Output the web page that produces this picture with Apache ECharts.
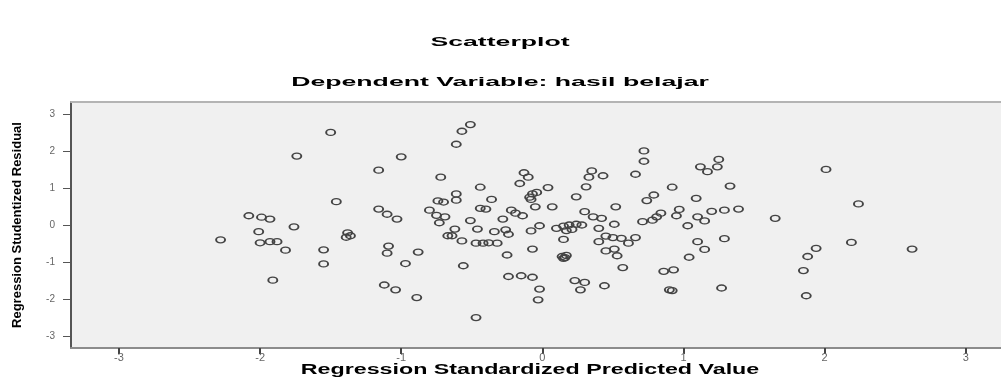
<!DOCTYPE html>
<html>
<head>
<meta charset="utf-8">
<script src="https://cdn.jsdelivr.net/npm/echarts@6/dist/echarts.min.js"></script>
<style>
html,body{margin:0;padding:0;background:#fff;}
#chart{width:1001px;height:387px;}
</style>
</head>
<body>
<div id="chart"></div>
<script>
// Regression Standardized Predicted Value (x) and Studentized Residual (y)
const predicted = [
 -2.28,-2.08,-1.99,-1.93,-1.76,-2.01,-2.00,-1.93,-1.88,-1.82,
 -1.91,-1.74,-1.50,-1.46,-1.38,-1.39,-1.36,-1.55,-1.55,-1.00,
 -1.16,-1.16,-1.10,-1.03,-1.09,-1.10,-0.97,-1.12,-1.04,-0.89,
 -0.88,-0.72,-0.74,-0.70,-0.80,-0.75,-0.69,-0.73,-0.67,-0.51,
 -0.57,-0.61,-0.44,-0.61,-0.61,-0.36,-0.13,-0.10,-0.16,-0.07,
 -0.04,-0.09,-0.08,0.04,0.24,-0.05,0.07,-0.44,-0.40,-0.51,
 -0.22,-0.19,-0.14,-0.28,-0.62,-0.64,-0.46,-0.57,-0.47,-0.42,
 -0.38,-0.32,-0.34,-0.26,-0.24,-0.08,-0.02,-0.25,-0.07,-0.56,
 -0.47,-0.24,-0.15,-0.07,-0.02,-0.03,0.10,0.15,0.19,0.24,
 0.28,0.17,0.21,0.15,0.14,0.16,0.17,0.15,0.30,0.35,
 0.33,0.43,0.31,0.36,0.42,0.40,0.51,0.52,0.40,0.45,
 0.50,0.56,0.61,0.66,0.45,0.51,0.53,0.57,0.23,0.30,
 0.27,0.44,0.72,0.72,0.66,0.92,0.79,0.74,1.09,1.12,
 1.17,1.25,1.24,1.33,0.84,0.81,0.78,0.71,0.97,0.95,
 1.10,1.15,1.03,1.20,1.29,1.39,1.65,1.10,1.15,1.29,
 1.04,0.86,0.93,0.90,0.92,1.27,1.87,1.85,1.88,1.94,
 2.01,2.24,2.19,2.62
];
const residual = [
 -0.40,0.25,0.21,0.16,-0.05,-0.18,-0.48,-0.45,-0.45,-0.68,
 -1.49,1.86,2.50,0.63,-0.21,-0.33,-0.29,-0.67,-1.05,1.84,
 1.48,0.43,0.29,0.16,-0.57,-0.76,-1.04,-1.62,-1.75,-1.96,
 -0.73,1.29,0.65,0.62,0.40,0.26,0.22,0.06,-0.29,2.71,
 2.53,2.18,1.02,0.84,0.67,0.69,1.41,1.29,1.12,0.84,
 0.88,0.75,0.69,1.01,0.76,0.49,0.49,0.45,0.43,0.12,
 0.40,0.32,0.25,0.16,-0.11,-0.29,-0.11,-0.43,-0.49,-0.49,
 -0.48,-0.49,-0.18,-0.13,-0.25,-0.16,-0.02,-0.81,-0.65,-1.10,
 -2.50,-1.39,-1.37,-1.41,-1.73,-2.02,-0.09,-0.03,0.00,0.02,
 0.00,-0.15,-0.12,-0.39,-0.85,-0.88,-0.82,-0.90,0.36,1.46,
 1.29,1.33,1.03,0.22,0.18,-0.09,0.02,0.49,-0.45,-0.30,
 -0.34,-0.36,-0.49,-0.34,-0.70,-0.65,-0.83,-1.15,-1.50,-1.55,
 -1.75,-1.64,2.00,1.72,1.37,1.02,0.81,0.66,0.72,1.57,
 1.44,1.77,1.57,1.05,0.32,0.22,0.13,0.09,0.42,0.25,
 0.22,0.11,-0.02,0.37,0.40,0.43,0.18,-0.45,-0.66,-0.37,
 -0.87,-1.25,-1.21,-1.75,-1.77,-1.70,-1.91,-1.23,-0.85,-0.63,
 1.50,0.57,-0.47,-0.65
];
const tickValues = [-3, -2, -1, 0, 1, 2, 3];
const chartTitle = 'Scatterplot';
const chartSubtitle = 'Dependent Variable: hasil belajar';
const xName = 'Regression Standardized Predicted Value';
const yName = 'Regression Studentized Residual';

const points = predicted.map((x, i) => [x, residual[i]]);

const chart = echarts.init(document.getElementById('chart'), null, {renderer: 'canvas'});
chart.setOption({
  animation: false,
  backgroundColor: '#ffffff',
  graphic: [
    {type: 'text', x: 500, y: 42, scaleX: 2.05,
     style: {text: chartTitle, font: 'bold 13px "Liberation Sans", Arial, sans-serif', fill: '#000', align: 'center', verticalAlign: 'middle'}},
    {type: 'text', x: 500, y: 82, scaleX: 2.05,
     style: {text: chartSubtitle, font: 'bold 13px "Liberation Sans", Arial, sans-serif', fill: '#000', align: 'center', verticalAlign: 'middle'}},
    {type: 'text', x: 530, y: 370, scaleX: 1.66,
     style: {text: xName, font: 'bold 14px "Liberation Sans", Arial, sans-serif', fill: '#000', align: 'center', verticalAlign: 'middle'}}
  ],
  grid: {
    left: 71, right: 0, top: 102, bottom: 39,
    show: true, backgroundColor: '#f0f0f0', borderWidth: 0
  },
  xAxis: [{
    type: 'value', min: -3.34, max: 3.25,
    splitLine: {show: false},
    axisLine: {show: true, onZero: false, lineStyle: {color: '#8c8c8c', width: 2}},
    axisTick: {show: true, customValues: tickValues, length: 6, lineStyle: {color: '#444', width: 2}},
    axisLabel: {customValues: tickValues, color: '#666', fontSize: 11, margin: 4,
      fontFamily: '"Liberation Sans", Arial, sans-serif'}
  }, {
    type: 'value', position: 'top', min: -3.34, max: 3.25,
    splitLine: {show: false},
    axisLine: {show: true, onZero: false, lineStyle: {color: '#b4b4b4', width: 2}},
    axisTick: {show: false},
    axisLabel: {show: false}
  }],
  yAxis: {
    type: 'value', min: -3.32, max: 3.32,
    name: yName, nameLocation: 'middle', nameGap: 47, nameRotate: 90,
    nameTextStyle: {fontFamily: '"Liberation Sans", Arial, sans-serif', fontWeight: 'bold', fontSize: 13, color: '#000'},
    splitLine: {show: false},
    axisLine: {show: true, onZero: false, lineStyle: {color: '#555', width: 2}},
    axisTick: {show: true, customValues: tickValues, length: 8, lineStyle: {color: '#555', width: 1}},
    axisLabel: {customValues: tickValues, color: '#666', fontSize: 10, margin: 16,
      fontFamily: '"Liberation Sans", Arial, sans-serif'}
  },
  series: [{
    type: 'scatter',
    xAxisIndex: 0,
    data: points,
    symbol: 'circle',
    symbolSize: [9, 6],
    itemStyle: {color: 'rgba(0,0,0,0)', borderColor: '#444', borderWidth: 1.6, opacity: 1}
  }]
});
</script>
</body>
</html>
